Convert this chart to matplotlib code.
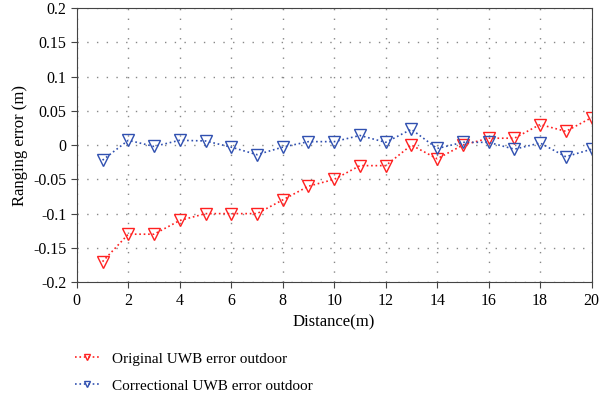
import matplotlib
matplotlib.use('Agg')
import matplotlib.pyplot as plt

# distancias (m) e erros de medida
distance = list(range(1, 21))
original_err = [-0.17, -0.13, -0.13, -0.11, -0.10, -0.10, -0.10, -0.08, -0.06, -0.05,
                -0.03, -0.03, 0.00, -0.02, 0.00, 0.01, 0.01, 0.03, 0.02, 0.04]
corrected_err = [-0.022, 0.007, -0.002, 0.007, 0.006, -0.003, -0.014, -0.003, 0.005, 0.005,
                 0.014, 0.004, 0.023, -0.005, 0.004, 0.004, -0.006, 0.003, -0.017, -0.006]

plt.rcParams['font.family'] = ['Liberation Serif', 'DejaVu Serif']

fig = plt.figure(figsize=(6, 3.98), dpi=100)
ax = fig.add_axes([0.128, 0.291, 0.858, 0.689])

ax.plot(distance, original_err, linestyle=':', color='#ff2020', marker='v',
        markerfacecolor='none', markeredgecolor='#ff2020', markersize=8, linewidth=1.2,
        label='Original UWB error outdoor')
ax.plot(distance, corrected_err, linestyle=':', color='#3050b0', marker='v',
        markerfacecolor='none', markeredgecolor='#3050b0', markersize=8, linewidth=1.2,
        label='Correctional UWB error outdoor')

ax.set_xlim(0, 20)
ax.set_ylim(-0.2, 0.2)
ax.set_xticks(range(0, 21, 2))
ax.set_yticks([-0.2, -0.15, -0.1, -0.05, 0, 0.05, 0.1, 0.15, 0.2])
ax.set_yticklabels(['-0.2', '-0.15', '-0.1', '-0.05', '0', '0.05', '0.1', '0.15', '0.2'])
ax.tick_params(labelsize=11.5, direction='out', length=4, color='#444444')
for s in ax.spines.values():
    s.set_color('#444444')
ax.grid(True, linestyle=(0, (1, 6)), color='#888888', linewidth=1.0)
ax.set_xlabel('Distance(m)', fontsize=12)
ax.set_ylabel('Ranging error (m)', fontsize=12)

ax.legend(loc='upper left', bbox_to_anchor=(-0.03, -0.205), frameon=False, fontsize=11,
          markerscale=0.6, handlelength=1.6, handletextpad=0.8, labelspacing=0.85)

fig.savefig('out.png', dpi=100)
